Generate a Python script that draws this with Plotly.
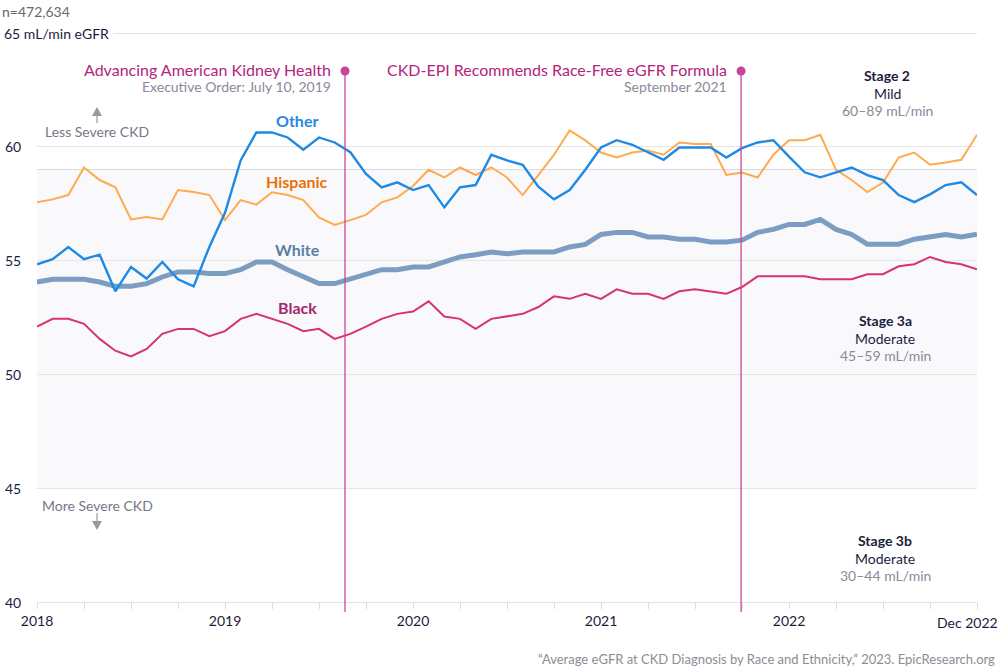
import plotly.graph_objects as go

months = list(range(61))  # Jan 2018 .. Dec 2022 (monthly index)

other = [54.84, 55.06, 55.60, 55.06, 55.26, 53.65, 54.72, 54.21, 54.94, 54.18, 53.87, 55.6, 57.1,
         59.40, 60.63, 60.63, 60.41, 59.87, 60.41, 60.19, 59.76, 58.81, 58.22, 58.44, 58.10, 58.32,
         57.34, 58.22, 58.32, 59.65, 59.4, 59.21, 58.25, 57.69, 58.10, 58.99, 59.97, 60.29, 60.09,
         59.75, 59.43, 59.97, 59.97, 59.97, 59.53, 59.94, 60.19, 60.29, 59.57, 58.88, 58.66, 58.88,
         59.09, 58.76, 58.54, 57.88, 57.57, 57.91, 58.32, 58.44, 57.88]
hispanic = [57.56, 57.69, 57.88, 59.09, 58.54, 58.22, 56.81, 56.91, 56.81, 58.10, 58.01, 57.88, 56.78,
            57.66, 57.46, 58.0, 57.88, 57.66, 56.9, 56.57, 56.78, 57.01, 57.56, 57.78, 58.28, 58.99,
            58.66, 59.09, 58.76, 59.10, 58.65, 57.88, 58.76, 59.65, 60.72, 60.28, 59.75, 59.53, 59.75,
            59.84, 59.65, 60.19, 60.12, 60.12, 58.76, 58.87, 58.65, 59.65, 60.29, 60.29, 60.53, 58.99,
            58.54, 58.01, 58.43, 59.53, 59.75, 59.21, 59.31, 59.43, 60.53]
white = [54.06, 54.18, 54.18, 54.18, 54.06, 53.87, 53.87, 53.99, 54.28, 54.50, 54.50, 54.43, 54.43,
         54.60, 54.94, 54.94, 54.60, 54.28, 53.99, 53.99, 54.18, 54.38, 54.60, 54.60, 54.72, 54.72,
         54.94, 55.16, 55.26, 55.38, 55.30, 55.38, 55.38, 55.38, 55.60, 55.71, 56.15, 56.24, 56.24,
         56.04, 56.04, 55.94, 55.94, 55.82, 55.82, 55.90, 56.24, 56.37, 56.59, 56.59, 56.81, 56.37,
         56.15, 55.72, 55.72, 55.72, 55.94, 56.04, 56.15, 56.04, 56.16]
black = [52.10, 52.44, 52.44, 52.22, 51.56, 51.04, 50.79, 51.12, 51.78, 52.0, 52.0, 51.68, 51.90,
         52.44, 52.66, 52.44, 52.22, 51.90, 52.0, 51.56, 51.78, 52.10, 52.44, 52.66, 52.76, 53.21,
         52.54, 52.44, 52.0, 52.44, 52.54, 52.66, 52.96, 53.43, 53.32, 53.54, 53.32, 53.74, 53.54,
         53.54, 53.32, 53.65, 53.74, 53.65, 53.54, 53.84, 54.31, 54.31, 54.31, 54.31, 54.18, 54.18,
         54.18, 54.40, 54.40, 54.75, 54.84, 55.16, 54.94, 54.84, 54.62]

tick_vals = list(range(0, 61, 3))
year_labels = {0: "2018", 12: "2019", 24: "2020", 36: "2021", 48: "2022"}
tick_text = [year_labels.get(v, "") for v in tick_vals]
last_label = "Dec 2022"

y_ticks = [40, 45, 50, 55, 60]
y_labels = ["40", "45", "50", "55", "60"]
top_label = "65 mL/min eGFR"

events = [
    {"x": 19.66, "title": "Advancing American Kidney Health", "sub": "Executive Order: July 10, 2019"},
    {"x": 44.94, "title": "CKD-EPI Recommends Race-Free eGFR Formula", "sub": "September 2021"},
]
event_dot_y = 63.33

stages = [
    {"name": "Stage 2", "sev": "Mild", "rng": "60\u201389 mL/min"},
    {"name": "Stage 3a", "sev": "Moderate", "rng": "45\u201359 mL/min"},
    {"name": "Stage 3b", "sev": "Moderate", "rng": "30\u201344 mL/min"},
]

FONT = "Lato, 'Open Sans', sans-serif"
DARK = "#1c1c3c"
GRAY = "#8a8a99"
MAG = "#c8449a"
MAG_T = "#b3247a"

fig = go.Figure()

series = [
    ("White", white, "#7b9dc1", 5),
    ("Black", black, "#d6336f", 2),
    ("Hispanic", hispanic, "#ffaa4f", 2),
    ("Other", other, "#1e8ae3", 2.4),
]
for name, vals, col, w in series:
    fig.add_trace(go.Scatter(x=months, y=vals, mode="lines", name=name,
                             line=dict(color=col, width=w), hoverinfo="skip"))

fig.add_trace(go.Scatter(x=[e["x"] for e in events], y=[event_dot_y] * len(events), mode="markers",
                         marker=dict(color=MAG, size=9), cliponaxis=False, hoverinfo="skip"))


def px(xp):
    return (xp - 37) / 940


def py(yp):
    return (602 - yp) / 569


shapes = []
# Stage 3a band
shapes.append(dict(type="rect", xref="x", yref="y", x0=0, x1=60, y0=45, y1=59,
                   fillcolor="#f9f9fc", line=dict(width=0), layer="below"))
shapes.append(dict(type="line", xref="x", yref="y", x0=0, x1=60, y0=59, y1=59,
                   line=dict(color="#dadade", width=1), layer="below"))
# top gridline starting after label
shapes.append(dict(type="line", xref="paper", yref="y", x0=px(113), x1=1, y0=65, y1=65,
                   line=dict(color="#e4e4e4", width=2), layer="below"))
for e in events:
    shapes.append(dict(type="line", xref="x", yref="paper", x0=e["x"], x1=e["x"], y0=py(612),
                       y1=(event_dot_y - 40) / 25, line=dict(color=MAG, width=1.3)))
# arrows
shapes.append(dict(type="line", xref="paper", yref="paper", x0=px(97), x1=px(97),
                   y0=py(123), y1=py(112), line=dict(color="#999", width=1.2)))
shapes.append(dict(type="path", xref="paper", yref="paper",
                   path=f"M {px(92)},{py(116)} L {px(102)},{py(116)} L {px(97)},{py(107)} Z",
                   fillcolor="#999", line=dict(width=0)))
shapes.append(dict(type="line", xref="paper", yref="paper", x0=px(97), x1=px(97),
                   y0=py(513), y1=py(524), line=dict(color="#999", width=1.2)))
shapes.append(dict(type="path", xref="paper", yref="paper",
                   path=f"M {px(92)},{py(521)} L {px(102)},{py(521)} L {px(97)},{py(530)} Z",
                   fillcolor="#999", line=dict(width=0)))

ann = []
for v, t in zip(y_ticks, y_labels):
    ann.append(dict(xref="paper", yref="y", x=px(3), y=v, text=t, showarrow=False, xanchor="left",
                    yanchor="middle", font=dict(family=FONT, size=14, color=DARK)))
ann.append(dict(xref="paper", yref="y", x=px(2), y=65, text=top_label, showarrow=False, xanchor="left",
                yanchor="middle", font=dict(family=FONT, size=14, color=DARK)))
ann.append(dict(xref="paper", yref="paper", x=px(967), y=py(622), text=last_label, showarrow=False,
                xanchor="center", yanchor="middle", font=dict(family=FONT, size=14, color=DARK)))
ann.append(dict(xref="paper", yref="paper", x=px(0), y=py(12), text="n=472,634", showarrow=False,
                xanchor="left", yanchor="middle", font=dict(family=FONT, size=14, color="#686870")))

for e in events:
    ann.append(dict(xref="x", yref="paper", x=e["x"], xshift=-12, y=py(70), text=e["title"], showarrow=False,
                    xanchor="right", yanchor="middle", font=dict(family=FONT, size=16, color=MAG_T)))
    ann.append(dict(xref="x", yref="paper", x=e["x"], xshift=-12, y=py(87), text=e["sub"], showarrow=False,
                    xanchor="right", yanchor="middle", font=dict(family=FONT, size=14, color=GRAY)))

ann.append(dict(xref="paper", yref="paper", x=px(97), y=py(131), text="Less Severe CKD", showarrow=False,
                xanchor="center", yanchor="middle", font=dict(family=FONT, size=14, color="#777786")))
ann.append(dict(xref="paper", yref="paper", x=px(97), y=py(505), text="More Severe CKD", showarrow=False,
                xanchor="center", yanchor="middle", font=dict(family=FONT, size=14, color="#777786")))

labels = [("Other", 120, "#2a86e0"), ("Hispanic", 181, "#e8720c"), ("White", 249, "#5a7fa5"),
          ("Black", 307, "#a5256c")]
for t, yp, c in labels:
    ann.append(dict(xref="paper", yref="paper", x=px(297), y=py(yp), text=f"<b>{t}</b>", showarrow=False,
                    xanchor="center", yanchor="middle", font=dict(family=FONT, size=16, color=c)))

stage_px = [(887, 75), (885, 320), (885, 540)]
for s, (xp, yp) in zip(stages, stage_px):
    ann.append(dict(xref="paper", yref="paper", x=px(xp), y=py(yp), text=f"<b>{s['name']}</b>", showarrow=False,
                    xanchor="center", yanchor="middle", font=dict(family=FONT, size=14, color=DARK)))
    ann.append(dict(xref="paper", yref="paper", x=px(xp), y=py(yp + 18), text=s["sev"], showarrow=False,
                    xanchor="center", yanchor="middle", font=dict(family=FONT, size=14, color=DARK)))
    ann.append(dict(xref="paper", yref="paper", x=px(xp), y=py(yp + 35), text=s["rng"], showarrow=False,
                    xanchor="center", yanchor="middle", font=dict(family=FONT, size=14, color=GRAY)))

ann.append(dict(xref="paper", yref="paper", x=px(997), y=py(659),
                text="\u201cAverage eGFR at CKD Diagnosis by Race and Ethnicity,\u201d 2023. EpicResearch.org",
                showarrow=False, xanchor="right", yanchor="middle",
                font=dict(family=FONT, size=13, color="#8c8c96")))

fig.update_layout(
    width=1000, height=668,
    margin=dict(l=37, r=23, t=33, b=66),
    paper_bgcolor="white", plot_bgcolor="white",
    showlegend=False,
    font=dict(family=FONT, color=DARK),
    shapes=shapes, annotations=ann,
    xaxis=dict(range=[0, 60], tickvals=tick_vals, ticktext=tick_text, showgrid=False, zeroline=False,
               ticks="outside", ticklen=6, tickcolor="#dddddd", showline=True, linecolor="#e2e2e2",
               linewidth=1, tickfont=dict(family=FONT, size=14, color=DARK), fixedrange=True),
    yaxis=dict(range=[40, 65], tickvals=y_ticks, showticklabels=False, showgrid=True,
               gridcolor="#e6e6e6", gridwidth=1, zeroline=False, fixedrange=True),
)

fig.write_html("out.html", config={"displayModeBar": False},
               post_script="document.body.style.margin='0';document.body.style.overflow='hidden';")
